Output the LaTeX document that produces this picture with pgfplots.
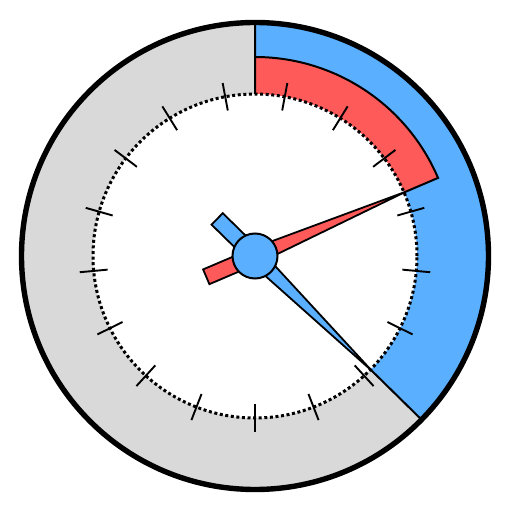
\documentclass[border=0pt]{standalone}
\usepackage{pgfplots}
\pgfplotsset{compat=1.18}
\definecolor{gblue}{RGB}{90,175,255}
\definecolor{gred}{RGB}{255,90,90}
\definecolor{ggray}{RGB}{217,217,217}
\begin{document}
\begin{tikzpicture}
\begin{axis}[x=1pt,y=1pt,xmin=-255,xmax=257,ymin=-256,ymax=256,
  hide axis,scale only axis,clip=false]
\path (axis cs:-255,-256) rectangle (axis cs:257,256);
% ring background
\fill[ggray] (axis cs:0,0) circle[radius=234pt];
% blue value sector
\filldraw[fill=gblue,draw=black,line width=2pt,line join=miter]
  (axis cs:0,0) -- ++(90:234pt) arc[start angle=90,end angle=-44.5,radius=234pt] -- cycle;
% red value sector
\filldraw[fill=gred,draw=black,line width=2pt,line join=miter]
  (axis cs:0,0) -- ++(90:199pt) arc[start angle=90,end angle=23.1,radius=199pt] -- cycle;
% inner dial
\fill[white] (axis cs:0,0) circle[radius=162pt];
\draw[line width=3pt,dash pattern=on 3pt off 2.6pt] (axis cs:0,0) circle[radius=162pt];
% ticks
\pgfplotsinvokeforeach{270,291.18,312.35,333.53,354.71,15.88,37.06,58.24,79.41,100.59,121.76,142.94,164.12,185.29,206.47,227.65,248.82}{
  \addplot[data cs=polar,black,line width=1.9pt] coordinates {(#1,148) (#1,176)};
}
% outer rim
\draw[line width=5.4pt] (axis cs:0,0) circle[radius=233.5pt];
% red needle
\addplot[data cs=polar,fill=gred,draw=black,line width=1.8pt,line join=miter]
  coordinates {(23.1,164) (113.1,8) (194.5,53.6) (211.7,53.6) (-66.9,8)} -- cycle;
% blue needle
\addplot[data cs=polar,fill=gblue,draw=black,line width=1.8pt,line join=miter]
  coordinates {(-44.5,164) (45.5,8) (127,53.6) (144.2,53.6) (-134.5,8)} -- cycle;
% hub
\addplot[only marks,mark=*,mark size=22.5pt,mark options={fill=gblue,draw=black,line width=2pt}]
  coordinates {(0,0)};
\end{axis}
\end{tikzpicture}
\end{document}
